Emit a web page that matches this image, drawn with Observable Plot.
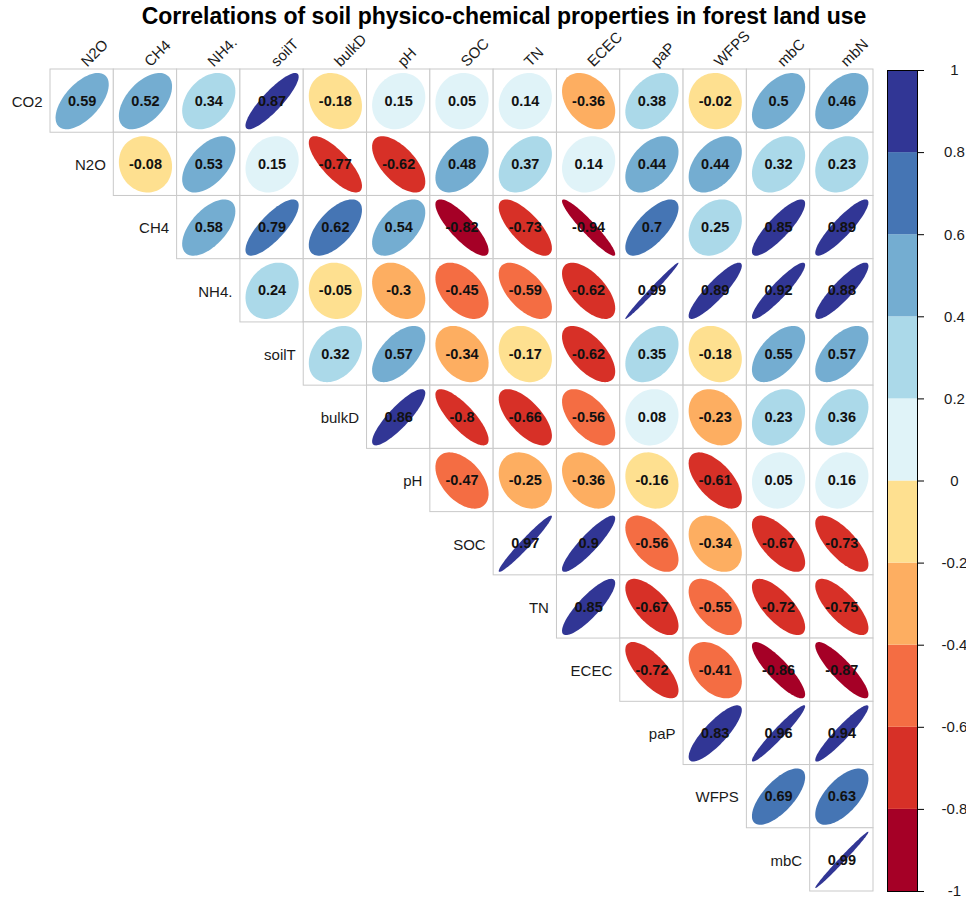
<!DOCTYPE html>
<html><head><meta charset="utf-8">
<script src="https://cdn.jsdelivr.net/npm/d3@7"></script>
<script src="https://cdn.jsdelivr.net/npm/@observablehq/plot@0.6"></script>
<style>
body{margin:0;background:#fff;}
#wrap{position:relative;width:966px;height:899px;overflow:hidden;font-family:"Liberation Sans",Arial,sans-serif;background:#fff;}
#wrap svg{position:absolute;left:0;top:0;}
#title{position:absolute;left:0;top:2px;width:1008px;text-align:center;font-weight:bold;font-size:23px;line-height:28px;color:#000;z-index:2;}
</style></head><body>
<div id="wrap"><div id="title">Correlations of soil physico-chemical properties in forest land use</div></div>
<script>
// Row variables (left labels) and column variables (top labels)
const rowLabels = ["CO2","N2O","CH4","NH4.","soilT","bulkD","pH","SOC","TN","ECEC","paP","WFPS","mbC"];
const colLabels = ["N2O","CH4","NH4.","soilT","bulkD","pH","SOC","TN","ECEC","paP","WFPS","mbC","mbN"];

// Upper-triangle correlations: row i holds values for columns i..12
const rCO2   = [0.59, 0.52, 0.34, 0.87, -0.18, 0.15, 0.05, 0.14, -0.36, 0.38, -0.02, 0.5, 0.46];
const rN2O   = [-0.08, 0.53, 0.15, -0.77, -0.62, 0.48, 0.37, 0.14, 0.44, 0.44, 0.32, 0.23];
const rCH4   = [0.58, 0.79, 0.62, 0.54, -0.82, -0.73, -0.94, 0.7, 0.25, 0.85, 0.89];
const rNH4   = [0.24, -0.05, -0.3, -0.45, -0.59, -0.62, 0.99, 0.89, 0.92, 0.88];
const rSoilT = [0.32, 0.57, -0.34, -0.17, -0.62, 0.35, -0.18, 0.55, 0.57];
const rBulkD = [0.86, -0.8, -0.66, -0.56, 0.08, -0.23, 0.23, 0.36];
const rPH    = [-0.47, -0.25, -0.36, -0.16, -0.61, 0.05, 0.16];
const rSOC   = [0.97, 0.9, -0.56, -0.34, -0.67, -0.73];
const rTN    = [0.85, -0.67, -0.55, -0.72, -0.75];
const rECEC  = [-0.72, -0.41, -0.86, -0.87];
const rPaP   = [0.83, 0.96, 0.94];
const rWFPS  = [0.69, 0.63];
const rMbC   = [0.99];
const rowValues = [rCO2, rN2O, rCH4, rNH4, rSoilT, rBulkD, rPH, rSOC, rTN, rECEC, rPaP, rWFPS, rMbC];

// Colour bins (RdYlBu, 10 classes)
const binEdges = [-0.8, -0.6, -0.4, -0.2, 0, 0.2, 0.4, 0.6, 0.8];
const binColors = ["#a50026","#d73027","#f46d43","#fdae61","#fee090","#e0f3f8","#abd9e9","#74add1","#4575b4","#313695"];
const legendTicks = [1, 0.8, 0.6, 0.4, 0.2, 0, -0.2, -0.4, -0.6, -0.8, -1];
const legendLabels = ["1","0.8","0.6","0.4","0.2","0","-0.2","-0.4","-0.6","-0.8","-1"];

// Build cell table
const cells = [];
rowValues.forEach((vals, i) => vals.forEach((r, k) => {
  const j = i + k;
  cells.push({row: i, col: j, r, label: String(r)});
}));

// Ellipse outlines (corrplot style): x = cos(t + acos(r)/2)/2, y = cos(t - acos(r)/2)/2
const sx = 0.84, sy = 0.89;
const ellPts = [];
cells.forEach((c, id) => {
  const a = Math.acos(c.r);
  const n = 90;
  for (let s = 0; s < n; s++) {
    const t = 2 * Math.PI * s / n;
    const ex = sx * Math.cos(t + a / 2) / 2;
    const ey = sy * Math.cos(t - a / 2) / 2;
    ellPts.push({id, r: c.r, x: c.col + 0.5 + ex, y: c.row + 0.5 - ey});
  }
});

const colorScale = {type: "threshold", domain: binEdges, range: binColors};
const font = "'Liberation Sans', Arial, sans-serif";

const main = Plot.plot({
  width: 966, height: 899,
  marginLeft: 50, marginRight: 93, marginTop: 69, marginBottom: 8,
  x: {domain: [0, 13], axis: null},
  y: {domain: [0, 13], reverse: true, axis: null},
  color: colorScale,
  style: {fontFamily: font, background: "transparent"},
  marks: [
    Plot.rect(cells, {x1: "col", x2: d => d.col + 1, y1: "row", y2: d => d.row + 1, fill: "white", stroke: "#c9c9c9", strokeWidth: 1}),
    Plot.line(ellPts, {x: "x", y: "y", z: "id", fill: "r", stroke: "none", curve: "linear-closed"}),
    Plot.text(cells, {x: d => d.col + 0.5, y: d => d.row + 0.5, text: "label", fontWeight: "bold", fontSize: 14.5, fill: "#111"}),
    Plot.text(colLabels, {x: (d, i) => i + 0.5, y: 0, text: d => d, rotate: -45, textAnchor: "start", lineAnchor: "bottom", dy: -2, dx: 5, fontSize: 15, fill: "#1a1a1a"}),
    Plot.text(rowLabels, {x: (d, i) => i, y: (d, i) => i + 0.5, text: d => d, textAnchor: "end", dx: -8, dy: 1, fontSize: 15, fill: "#1a1a1a"})
  ]
});

const bins = binColors.map((c, i) => ({lo: i === 0 ? -1 : binEdges[i - 1], hi: i === binColors.length - 1 ? 1 : binEdges[i]}));
const legend = Plot.plot({
  width: 966, height: 899,
  marginLeft: 887, marginRight: 49, marginTop: 70, marginBottom: 8,
  x: {domain: [0, 1], axis: null},
  y: {domain: [-1, 1]},
  color: colorScale,
  style: {fontFamily: font, background: "transparent"},
  marks: [
    Plot.rect(bins, {x1: 0, x2: 1, y1: "lo", y2: "hi", fill: d => (d.lo + d.hi) / 2}),
    Plot.frame({stroke: "#000", strokeWidth: 1}),
    Plot.axisY({anchor: "right", ticks: legendTicks, tickFormat: (d) => legendLabels[legendTicks.indexOf(d)], tickSize: 6, tickPadding: 31, textAnchor: "middle", fontSize: 15, fill: "#1a1a1a", stroke: "#000", label: null})
  ]
});

const wrap = document.getElementById("wrap");
wrap.appendChild(main);
wrap.appendChild(legend);
</script>
</body></html>
